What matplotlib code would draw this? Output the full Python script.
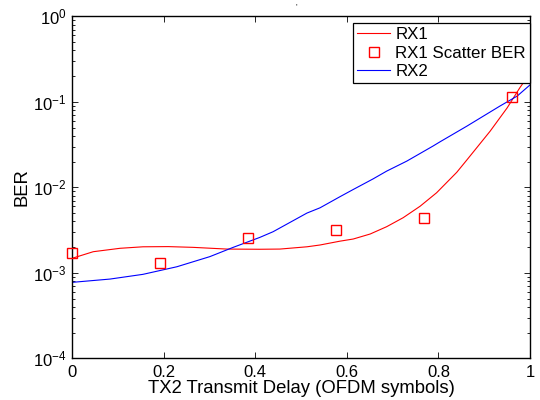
import matplotlib
matplotlib.use("Agg")
import matplotlib.pyplot as plt
from matplotlib.ticker import LogLocator, NullFormatter, FixedLocator

plt.rcParams['font.family'] = ['Liberation Sans', 'DejaVu Sans']
plt.rcParams['mathtext.fontset'] = 'custom'
plt.rcParams['mathtext.rm'] = 'Liberation Sans'
plt.rcParams['mathtext.it'] = 'Liberation Sans:italic'
plt.rcParams['mathtext.bf'] = 'Liberation Sans:bold'

# RX1 fitted curve
rx1_x = [0.0, 0.0465, 0.105, 0.155, 0.21, 0.264, 0.338, 0.410, 0.454, 0.513,
         0.5415, 0.585, 0.614, 0.651, 0.687, 0.723, 0.760, 0.796, 0.840, 0.862,
         0.913, 0.950, 0.978, 1.0]
rx1_y = [1.48e-3, 1.77e-3, 1.94e-3, 2.02e-3, 2.03e-3, 1.99e-3, 1.90e-3, 1.89e-3,
         1.90e-3, 2.02e-3, 2.12e-3, 2.35e-3, 2.49e-3, 2.85e-3, 3.47e-3, 4.42e-3,
         6.02e-3, 8.65e-3, 1.5e-2, 2.09e-2, 4.55e-2, 8.5e-2, 0.147, 0.216]

# RX1 scatter BER
sc_x = [0.0, 0.1923, 0.3846, 0.5769, 0.7692, 0.9615]
sc_y = [1.69e-3, 1.29e-3, 2.55e-3, 3.21e-3, 4.36e-3, 0.1137]

# RX2 curve
rx2_x = [0.0, 0.083, 0.155, 0.229, 0.301, 0.352, 0.410, 0.439, 0.513, 0.5415,
         0.585, 0.614, 0.657, 0.687, 0.731, 0.788, 0.803, 0.862, 0.934, 0.972, 1.0]
rx2_y = [7.75e-4, 8.47e-4, 9.62e-4, 1.18e-3, 1.55e-3, 1.99e-3, 2.60e-3, 3.03e-3,
         5.01e-3, 5.77e-3, 7.78e-3, 9.45e-3, 1.254e-2, 1.55e-2, 2.03e-2, 3.04e-2,
         3.4e-2, 5.20e-2, 8.92e-2, 0.117, 0.158]

x_ticks = [0, 0.2, 0.4, 0.6, 0.8, 1]
x_ticklabels = ['0', '0.2', '0.4', '0.6', '0.8', '1']

fig = plt.figure(figsize=(5.4, 4.0), dpi=100)
ax = fig.add_axes([0.1333, 0.104, 0.8482, 0.855])

ax.plot(rx1_x, rx1_y, color='#ff0000', lw=0.8, label='RX1')
ax.plot(sc_x, sc_y, linestyle='none', marker='s', markersize=6.5,
        markerfacecolor='none', markeredgecolor='#ff0000', markeredgewidth=1.0,
        label='RX1 Scatter BER', clip_on=False, zorder=3)
ax.plot(rx2_x, rx2_y, color='#0000ff', lw=0.8, label='RX2')

ax.set_yscale('log')
ax.set_xlim(0, 1)
ax.set_ylim(1e-4, 1)
ax.xaxis.set_major_locator(FixedLocator(x_ticks))
ax.set_xticklabels(x_ticklabels)
ax.yaxis.set_major_locator(LogLocator(base=10, numticks=10))
ax.yaxis.set_minor_locator(LogLocator(base=10, subs=range(2, 10), numticks=20))
ax.yaxis.set_minor_formatter(NullFormatter())

ax.tick_params(which='both', direction='in', top=True, right=True, labelsize=12,
               width=0.6, colors='black')
ax.tick_params(which='major', length=4)
ax.tick_params(which='minor', length=2)
ax.tick_params(axis='x', pad=5)
ax.tick_params(axis='y', pad=4)
for s in ax.spines.values():
    s.set_linewidth(1.0)

ax.set_xlabel('TX2 Transmit Delay (OFDM symbols)', fontsize=13.3, labelpad=0)
ax.set_ylabel('BER', fontsize=13.3, labelpad=2)

leg = ax.legend(loc='upper right', bbox_to_anchor=(1.0, 0.981), borderaxespad=0,
                fontsize=12.2, fancybox=False, framealpha=1, edgecolor='black',
                handlelength=1.95, handletextpad=0.3, borderpad=0.25,
                labelspacing=0.2)
leg.get_frame().set_linewidth(0.9)

fig.text(0.548, 0.982, "'", fontsize=6, ha='center', va='center')

fig.savefig('out.png', dpi=100)
